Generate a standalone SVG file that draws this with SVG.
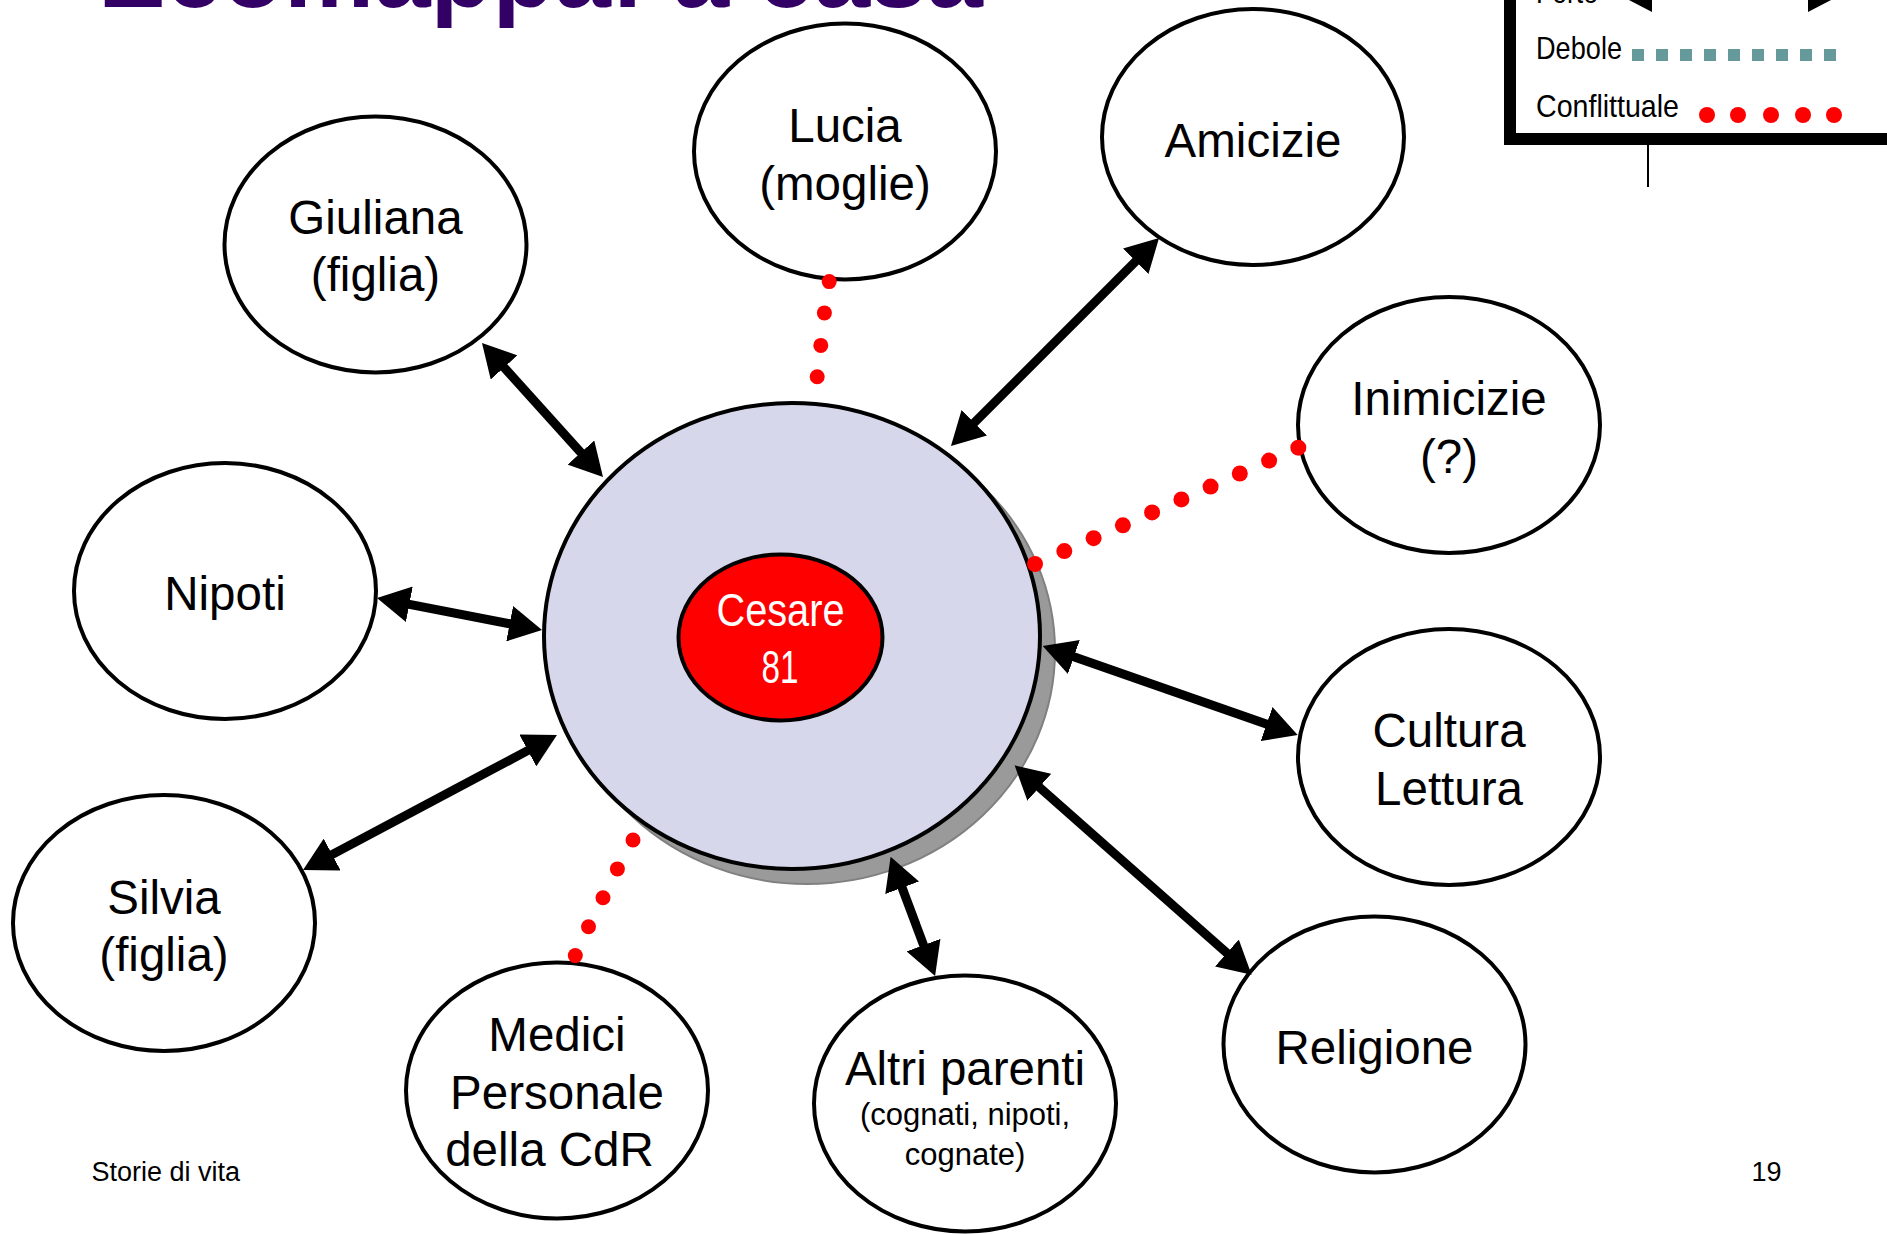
<svg xmlns="http://www.w3.org/2000/svg" width="1887" height="1234" viewBox="0 0 1887 1234">
<style>
.node{fill:#FFFFFF;stroke:#000000;stroke-width:4}
.lbl{font-family:"Liberation Sans",Arial,sans-serif;font-size:47.5px;fill:#000000;text-anchor:middle}
.small{font-size:31px}
.conn{stroke:#000000;stroke-width:9;fill:none;marker-start:url(#ah);marker-end:url(#ah)}
.dot{fill:#FF0000}
.narrow{font-family:"Liberation Sans",Arial,sans-serif;font-size:32px;fill:#000000}
.foot{font-family:"Liberation Sans",Arial,sans-serif;font-size:27px;fill:#000000}
</style>
<defs>
<marker id="ah" viewBox="0 0 33 36" refX="13" refY="18" markerWidth="33" markerHeight="36" markerUnits="userSpaceOnUse" orient="auto-start-reverse">
<path d="M0,0 L33,18 L0,36 z" fill="#000000"/>
</marker>
</defs>
<rect width="1887" height="1234" fill="#FFFFFF"/>
<text x="98" y="7" font-family="'Liberation Sans',Arial,sans-serif" font-weight="bold" font-size="101.5" fill="#330066" textLength="885" lengthAdjust="spacingAndGlyphs">Ecomappa: a casa</text>
<g id="legend">
<rect x="1510" y="-100" width="500" height="239" fill="#FFFFFF" stroke="#000000" stroke-width="12"/>
<line x1="1648" y1="145" x2="1648" y2="187" stroke="#000000" stroke-width="2"/>
<text class="narrow" x="1536" y="3" textLength="62" lengthAdjust="spacingAndGlyphs">Forte</text>
<line x1="1645" y1="-1" x2="1815" y2="-1" stroke="#000000" stroke-width="2"/>
<polygon points="1627,-1 1652,-14 1652,12" fill="#000000"/>
<polygon points="1833,-1 1808,-14 1808,12" fill="#000000"/>
<text class="narrow" x="1536" y="59" textLength="86" lengthAdjust="spacingAndGlyphs">Debole</text>
<line x1="1632" y1="55" x2="1836" y2="55" stroke="#669999" stroke-width="12" stroke-dasharray="12 12"/>
<text class="narrow" x="1536" y="117" textLength="143" lengthAdjust="spacingAndGlyphs">Conflittuale</text>
<circle class="dot" cx="1707" cy="115" r="8"/>
<circle class="dot" cx="1738" cy="115" r="8"/>
<circle class="dot" cx="1771" cy="115" r="8"/>
<circle class="dot" cx="1803" cy="115" r="8"/>
<circle class="dot" cx="1834" cy="115" r="8"/>
</g>
<g id="center">
<ellipse cx="807" cy="651" rx="248" ry="233" fill="#9A9A9A" stroke="#808080" stroke-width="2"/>
<ellipse cx="792" cy="636" rx="248" ry="233" fill="#D6D7EB" stroke="#000000" stroke-width="4"/>
</g>
<g id="cesare">
<ellipse cx="780.5" cy="637.5" rx="102" ry="83" fill="#FF0000" stroke="#000000" stroke-width="4"/>
<text x="780.5" y="626" font-family="'Liberation Sans',Arial,sans-serif" font-size="46" fill="#FFFFFF" text-anchor="middle" textLength="128" lengthAdjust="spacingAndGlyphs">Cesare</text>
<text x="780" y="683" font-family="'Liberation Sans',Arial,sans-serif" font-size="46" fill="#FFFFFF" text-anchor="middle" textLength="37" lengthAdjust="spacingAndGlyphs">81</text>
</g>
<g id="giuliana">
<ellipse class="node" cx="375.5" cy="244.5" rx="151" ry="128"/>
<text class="lbl" x="375.5" y="233.5">Giuliana</text>
<text class="lbl" x="375.5" y="291">(figlia)</text>
</g>
<g id="lucia">
<ellipse class="node" cx="845" cy="151.5" rx="151" ry="128"/>
<text class="lbl" x="845" y="142">Lucia</text>
<text class="lbl" x="845" y="200">(moglie)</text>
</g>
<g id="amicizie">
<ellipse class="node" cx="1253" cy="137" rx="151" ry="128"/>
<text class="lbl" x="1253" y="156.5">Amicizie</text>
</g>
<g id="inimicizie">
<ellipse class="node" cx="1449" cy="425" rx="151" ry="128"/>
<text class="lbl" x="1449" y="415">Inimicizie</text>
<text class="lbl" x="1449" y="473">(?)</text>
</g>
<g id="nipoti">
<ellipse class="node" cx="225" cy="591" rx="151" ry="128"/>
<text class="lbl" x="225" y="610">Nipoti</text>
</g>
<g id="cultura">
<ellipse class="node" cx="1449" cy="757" rx="151" ry="128"/>
<text class="lbl" x="1449" y="747">Cultura</text>
<text class="lbl" x="1449" y="805">Lettura</text>
</g>
<g id="silvia">
<ellipse class="node" cx="164" cy="923" rx="151" ry="128"/>
<text class="lbl" x="164" y="913.5">Silvia</text>
<text class="lbl" x="164" y="971">(figlia)</text>
</g>
<g id="medici">
<ellipse class="node" cx="557" cy="1090.5" rx="151" ry="128"/>
<text class="lbl" x="557" y="1050.5">Medici</text>
<text class="lbl" x="557" y="1108.5">Personale</text>
<text class="lbl" x="549.5" y="1166">della CdR</text>
</g>
<g id="altri">
<ellipse class="node" cx="965" cy="1103.5" rx="151" ry="128"/>
<text class="lbl" x="965" y="1085">Altri parenti</text>
<text class="lbl small" x="965" y="1125">(cognati, nipoti,</text>
<text class="lbl small" x="965" y="1165">cognate)</text>
</g>
<g id="religione">
<ellipse class="node" cx="1374.5" cy="1044.5" rx="151" ry="128"/>
<text class="lbl" x="1374.5" y="1064">Religione</text>
</g>
<g id="connectors">
<line class="conn" x1="495.4" y1="357.8" x2="589.6" y2="462.2"/>
<line class="conn" x1="1144.9" y1="252.1" x2="965.1" y2="431.9"/>
<line class="conn" x1="396.6" y1="601.8" x2="522.4" y2="626.2"/>
<line class="conn" x1="320.7" y1="860.6" x2="539.3" y2="744.4"/>
<line class="conn" x1="897.6" y1="875.6" x2="928.1" y2="957.3"/>
<line class="conn" x1="1029.6" y1="778.6" x2="1236.6" y2="961.6"/>
<line class="conn" x1="1061.6" y1="652.6" x2="1278.8" y2="728.4"/>
<g id="conflict-lucia">
<circle class="dot" cx="829.2" cy="281.6" r="7.5"/>
<circle class="dot" cx="824.4" cy="312.9" r="7.5"/>
<circle class="dot" cx="820.8" cy="345.4" r="7.5"/>
<circle class="dot" cx="817.2" cy="376.7" r="7.5"/>
</g>
<g id="conflict-inimicizie">
<circle class="dot" cx="1298.3" cy="447.7" r="8"/>
<circle class="dot" cx="1269.1" cy="460.6" r="8"/>
<circle class="dot" cx="1239.8" cy="473.5" r="8"/>
<circle class="dot" cx="1210.6" cy="486.6" r="8"/>
<circle class="dot" cx="1181.4" cy="499.4" r="8"/>
<circle class="dot" cx="1152.1" cy="512.4" r="8"/>
<circle class="dot" cx="1122.9" cy="525.3" r="8"/>
<circle class="dot" cx="1093.6" cy="538.2" r="8"/>
<circle class="dot" cx="1064.3" cy="551.1" r="8"/>
<circle class="dot" cx="1035" cy="564" r="8"/>
</g>
<g id="conflict-medici">
<circle class="dot" cx="633" cy="840" r="7.5"/>
<circle class="dot" cx="617.4" cy="868.9" r="7.5"/>
<circle class="dot" cx="603" cy="897.8" r="7.5"/>
<circle class="dot" cx="588.5" cy="926.7" r="7.5"/>
<circle class="dot" cx="575.3" cy="955.6" r="7.5"/>
</g>
</g>
<text class="foot" x="91.5" y="1181">Storie di vita</text>
<text class="foot" x="1751.5" y="1181">19</text>
</svg>
